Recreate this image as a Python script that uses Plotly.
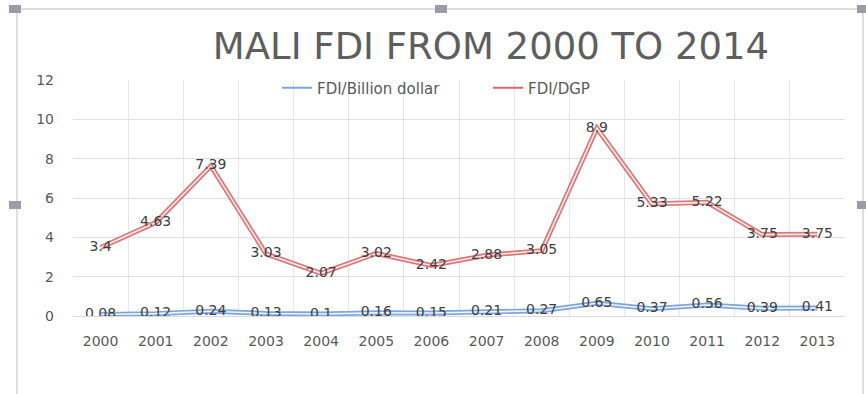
import numpy as np
import plotly.graph_objects as go

years = ["2000", "2001", "2002", "2003", "2004", "2005", "2006",
         "2007", "2008", "2009", "2010", "2011", "2012", "2013"]
fdi_billion = [0.08, 0.12, 0.24, 0.13, 0.1, 0.16, 0.15, 0.21, 0.27, 0.65, 0.37, 0.56, 0.39, 0.41]
fdi_gdp = [3.4, 4.63, 7.39, 3.03, 2.07, 3.02, 2.42, 2.88, 3.05, 8.9, 5.33, 5.22, 3.75, 3.75]

# stacked line chart (as in the original Excel chart)
blue_y = np.array(fdi_billion)
red_y = blue_y + np.array(fdi_gdp)

W, H = 866, 394
L, R, T, B = 73, 21, 80, 78
PW, PH = W - L - R, H - T - B

def px_x(x):
    return (x - L) / PW

def px_y(y):
    return (H - B - y) / PH

BLUE = "#7EA6D8"
RED = "#D9787A"
LABEL = "#404040"
FONT = "DejaVu Sans"

fig = go.Figure()

# blue series double line
fig.add_trace(go.Scatter(x=years, y=blue_y, mode="lines",
                         line=dict(color=BLUE, width=5), showlegend=False, hoverinfo="skip"))
fig.add_trace(go.Scatter(x=years, y=blue_y, mode="lines",
                         line=dict(color="#EEF4FB", width=1.6), showlegend=False, hoverinfo="skip"))
# red series double line
fig.add_trace(go.Scatter(x=years, y=red_y, mode="lines",
                         line=dict(color=RED, width=5), showlegend=False, hoverinfo="skip"))
fig.add_trace(go.Scatter(x=years, y=red_y, mode="lines",
                         line=dict(color="#FBEAEA", width=1.6), showlegend=False, hoverinfo="skip"))

# data labels
fig.add_trace(go.Scatter(x=years, y=blue_y, mode="text", text=[str(v) for v in fdi_billion],
                         textposition="middle center", textfont=dict(family=FONT, size=14, color=LABEL),
                         showlegend=False, hoverinfo="skip"))
fig.add_trace(go.Scatter(x=years, y=red_y, mode="text", text=[str(v) for v in fdi_gdp],
                         textposition="middle center", textfont=dict(family=FONT, size=14, color=LABEL),
                         showlegend=False, hoverinfo="skip"))

# legend entries
fig.add_trace(go.Scatter(x=[None], y=[None], mode="lines", name="FDI/Billion dollar",
                         line=dict(color="#7FA7D6", width=2)))
fig.add_trace(go.Scatter(x=[None], y=[None], mode="lines", name="FDI/DGP",
                         line=dict(color="#D46A6D", width=2)))

shapes = []
border = "#D4D4D4"
# chart frame (left, top, right)
shapes.append(dict(type="line", xref="paper", yref="paper", x0=px_x(17), x1=px_x(17),
                   y0=px_y(9), y1=px_y(394), line=dict(color=border, width=1.5)))
shapes.append(dict(type="line", xref="paper", yref="paper", x0=px_x(17), x1=px_x(863),
                   y0=px_y(9), y1=px_y(9), line=dict(color=border, width=1.5)))
shapes.append(dict(type="line", xref="paper", yref="paper", x0=px_x(863), x1=px_x(863),
                   y0=px_y(9), y1=px_y(394), line=dict(color=border, width=1.5)))
# selection handles
for cx, cy in [(15, 9), (441, 9), (863, 9), (15, 205), (863, 205)]:
    shapes.append(dict(type="rect", xref="paper", yref="paper",
                       x0=px_x(cx - 6), x1=px_x(cx + 6), y0=px_y(cy - 4), y1=px_y(cy + 4),
                       fillcolor="#9C9CA8", line=dict(width=0)))

fig.update_layout(
    width=W, height=H,
    margin=dict(l=L, r=R, t=T, b=B),
    paper_bgcolor="white", plot_bgcolor="white",
    title=dict(text="MALI FDI FROM 2000 TO 2014", x=491 / W, xanchor="center",
               y=1 - 46 / H, yanchor="middle", font=dict(family=FONT, size=37, color="#5E5E5E")),
    legend=dict(orientation="h", x=px_x(277), xanchor="left", y=px_y(88), yanchor="middle",
                font=dict(family=FONT, size=15, color="#595959"), bgcolor="rgba(0,0,0,0)",
                tracegroupgap=0, entrywidth=166, entrywidthmode="pixels"),
    xaxis=dict(type="category", range=[-0.5, 13.5], tickson="boundaries", showgrid=True,
               gridcolor="#E6E6E6", gridwidth=1, ticks="", showline=True, linecolor="#D9D9D9",
               tickfont=dict(family=FONT, size=14, color="#595959"), ticklabelstandoff=12,
               zeroline=False),
    yaxis=dict(range=[0, 12], dtick=2, showgrid=True, gridcolor="#E0E0E0", gridwidth=1,
               ticks="", showline=False, zeroline=False,
               tickfont=dict(family=FONT, size=14, color="#595959"), ticklabelstandoff=18),
    shapes=shapes,
    showlegend=True,
)

fig.write_html("out.html")
